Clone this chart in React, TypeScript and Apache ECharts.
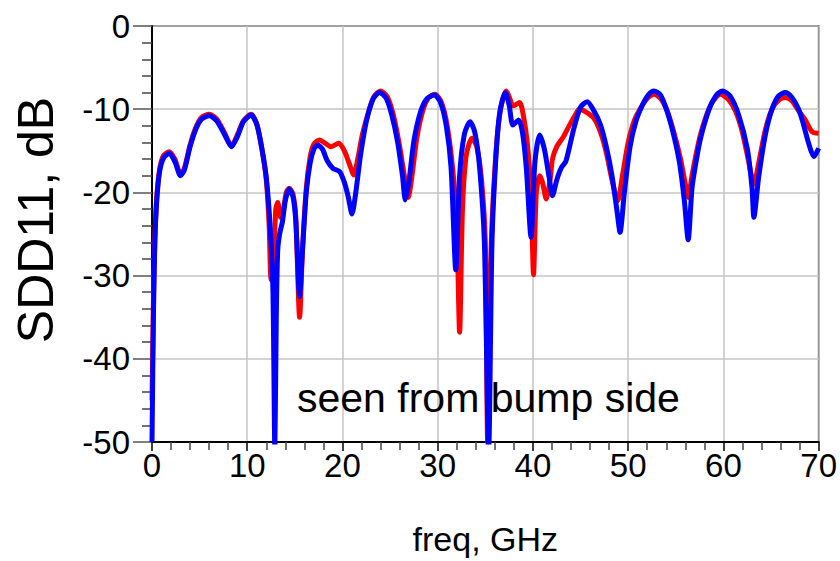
import React, { useEffect, useRef } from "react";
import * as echarts from "echarts";

const freqRed = [
  0, 0.15, 0.3, 0.5, 0.8, 1.2, 1.8, 2.4, 3.0, 3.4, 4.0, 4.6, 5.2, 6.0, 6.8, 7.6, 8.35, 9.0, 9.6, 10.4,
  11.0, 11.5, 12.0, 12.3, 12.5, 12.8, 13.0, 13.2, 13.5, 13.8, 14.1, 14.4, 14.8, 15.1, 15.5, 15.8, 16.2,
  16.6, 17.0, 17.6, 18.2, 18.8, 19.6, 20.2, 20.7, 21.2, 21.6, 22.1, 22.7, 23.3, 24.0, 24.7, 25.3, 25.9,
  26.5, 26.9, 27.3, 27.8, 28.4, 29.0, 29.7, 30.4, 31.0, 31.6, 32.0, 32.3, 32.6, 33.0, 33.6, 34.1, 34.6,
  35.0, 35.25, 35.6, 36.1, 36.6, 37.2, 37.6, 37.9, 38.6, 39.0, 39.4, 39.8, 40.06, 40.35, 40.7, 41.0,
  41.4, 41.8, 42.05, 42.5, 43.2, 43.8, 44.4, 44.85, 45.5, 46.4, 47.1, 47.7, 48.3, 48.9, 49.4, 50.0,
  50.7, 51.5, 52.1, 52.7, 53.4, 54.1, 54.8, 55.5, 56.0, 56.3, 56.7, 57.1, 57.6, 58.5, 59.2, 59.7, 60.5,
  61.3, 62.0, 62.6, 63.2, 63.7, 64.4, 65.1, 65.8, 66.5, 67.2, 67.9, 68.6, 69.3, 70,
];
const sdd11Red = [
  -45, -33, -25.5, -20.5, -17.2, -15.6, -15.1, -16.0, -17.8, -17.1, -14.3, -12.2, -11.0, -10.6, -11.2,
  -12.8, -14.4, -13.0, -11.4, -10.6, -11.8, -14.5, -18.5, -24, -30.5, -27, -22, -21.2, -23, -22, -20,
  -19.5, -20.2, -23, -35, -27, -19.5, -15.8, -14.2, -13.7, -14.1, -14.5, -14.1, -15, -16.5, -17.9, -16,
  -13, -10.5, -8.5, -7.8, -8.5, -10.5, -13.8, -18, -20.6, -18, -13.5, -10.3, -8.7, -8.2, -9.2, -12,
  -17.5, -24, -36.8, -22, -15.5, -13.5, -14.5, -18.5, -26, -50, -27, -15.5, -10, -7.8, -8.8, -9.6, -9.2,
  -10.8, -14, -20, -29.9, -20, -18, -18.8, -20.8, -18.5, -16, -14.5, -13.3, -12, -10.8, -10.0, -10.3,
  -11.1, -12.8, -15.2, -18.5, -21.0, -18, -14, -11.2, -9.5, -8.6, -8.2, -8.7, -10.2, -12.8, -16, -19,
  -20.6, -18, -15.6, -13, -9.9, -8.6, -8.2, -8.8, -10.3, -12.8, -16, -19.0, -16.5, -12.5, -10.0, -8.9,
  -8.6, -9.0, -10.2, -11.3, -12.7, -12.9,
];

const freqBlue = [
  0, 0.15, 0.3, 0.5, 0.8, 1.2, 1.8, 2.4, 3.0, 3.4, 4.0, 4.6, 5.2, 6.0, 6.8, 7.6, 8.35, 9.0, 9.6, 10.4,
  11.0, 11.5, 12.0, 12.4, 12.7, 12.9, 13.05, 13.2, 13.4, 13.7, 14.0, 14.4, 14.8, 15.1, 15.5, 15.8, 16.2,
  16.6, 17.0, 17.4, 17.9, 18.4, 19.0, 19.7, 20.2, 20.6, 21.0, 21.4, 21.9, 22.5, 23.2, 23.9, 24.6, 25.2,
  25.8, 26.3, 26.6, 27.0, 27.5, 28.2, 28.9, 29.65, 30.3, 30.9, 31.4, 31.9, 32.3, 32.8, 33.4, 33.9, 34.4,
  34.9, 35.35, 35.7, 36.1, 36.5, 37.1, 37.5, 37.9, 38.5, 38.9, 39.3, 39.8, 40.2, 40.7, 41.2, 41.7,
  42.05, 42.5, 43.0, 43.45, 44.3, 45.0, 45.7, 46.4, 47.1, 47.7, 48.3, 48.8, 49.15, 49.6, 50.2, 50.8,
  51.5, 52.1, 52.7, 53.4, 54.1, 54.8, 55.4, 55.9, 56.3, 56.7, 57.1, 57.6, 58.5, 59.2, 59.9, 60.7, 61.6,
  62.5, 63.0, 63.2, 63.7, 64.4, 65.1, 65.8, 66.5, 67.2, 67.9, 68.4, 68.8, 69.2, 69.5, 70,
];
const sdd11Blue = [
  -50, -35, -26, -21, -17.5, -15.9, -15.3, -16.3, -18.0, -17.3, -14.5, -12.4, -11.2, -10.8, -11.4, -13.0,
  -14.5, -13.2, -11.5, -10.7, -11.8, -14.5, -18.2, -24, -32, -51, -35, -27, -25, -23.5, -21, -19.6,
  -20.5, -23.5, -32.5, -27, -20, -16.5, -14.8, -14.3, -14.8, -16.2, -17.1, -17.5, -18.8, -20.5, -22.6,
  -20, -15.5, -11.5, -8.8, -8.0, -8.7, -10.8, -14, -18, -20.9, -18.5, -13.8, -10.3, -8.7, -8.3, -9.2,
  -12, -17, -29.3, -18, -13, -11.5, -12.8, -17, -26, -51, -26, -16, -10.5, -8.0, -9.5, -11.9, -11.3,
  -12.8, -17, -25.4, -16.5, -13.1, -14.8, -18.2, -20.4, -18.5, -17, -16.3, -12.3, -9.75, -9.1, -10.2,
  -11.9, -14.5, -18, -22, -24.8, -20, -14.5, -11.5, -9.5, -8.3, -7.8, -8.3, -10.3, -13.2, -16.5, -21,
  -25.7, -19.5, -16.5, -13.5, -10, -8.4, -7.8, -8.4, -10.7, -14.7, -19.4, -23.0, -18.2, -13.1, -10,
  -8.4, -8.0, -8.6, -10, -11.8, -13.5, -15, -15.7, -14.7,
];

const xTicks = [0, 10, 20, 30, 40, 50, 60, 70];
const yTicks = [0, -10, -20, -30, -40, -50];

const FONT = "Liberation Sans, Arial, sans-serif";

export default function App() {
  const ref = useRef<HTMLDivElement>(null);
  useEffect(() => {
    document.body.style.margin = "0";
    if (!ref.current) return;
    const chart = echarts.init(ref.current, undefined, { renderer: "svg" });
    const redData = freqRed.map((f, i) => [f, sdd11Red[i]]);
    const blueData = freqBlue.map((f, i) => [f, sdd11Blue[i]]);
    chart.setOption({
      animation: false,
      backgroundColor: "#ffffff",
      grid: {
        left: 152,
        right: 20,
        top: 26,
        bottom: 113,
        show: true,
        borderColor: "#000",
        borderWidth: 1.5,
      },
      xAxis: {
        type: "value",
        min: xTicks[0],
        max: xTicks[xTicks.length - 1],
        interval: 10,
        name: "freq, GHz",
        nameLocation: "middle",
        nameGap: 80,
        nameTextStyle: { fontFamily: FONT, fontSize: 34, color: "#000" },
        axisLine: { show: true, onZero: false, lineStyle: { color: "#000", width: 2 } },
        axisTick: { show: true, length: 9, lineStyle: { color: "#000", width: 1.5 } },
        minorTick: { show: true, splitNumber: 5, length: 8, lineStyle: { color: "#444", width: 1.5 } },
        axisLabel: { fontFamily: FONT, fontSize: 33, color: "#000", margin: 7 },
        splitLine: { show: true, lineStyle: { color: "#c4c4c4", width: 1.5 } },
      },
      yAxis: {
        type: "value",
        min: yTicks[yTicks.length - 1],
        max: yTicks[0],
        interval: 10,
        axisLine: { show: true, onZero: false, lineStyle: { color: "#000", width: 2 } },
        axisTick: { show: true, length: 19, lineStyle: { color: "#555", width: 1.5 } },
        minorTick: { show: true, splitNumber: 5, length: 10, lineStyle: { color: "#444", width: 1.5 } },
        axisLabel: { fontFamily: FONT, fontSize: 33, color: "#000", margin: 22 },
        splitLine: { show: true, lineStyle: { color: "#c4c4c4", width: 1.5 } },
      },
      graphic: [
        {
          type: "text",
          x: 36,
          y: 220,
          rotation: Math.PI / 2,
          style: {
            text: "SDD11, dB",
            font: `50px ${FONT}`,
            fill: "#000",
            align: "center",
            verticalAlign: "middle",
          },
        },
        {
          type: "text",
          left: 297,
          top: 377,
          z: 100,
          style: {
            text: "seen from bump side",
            font: `41px ${FONT}`,
            fill: "#000",
          },
        },
      ],
      series: [
        {
          type: "line",
          data: redData,
          showSymbol: false,
          smooth: 0.25,
          clip: true,
          lineStyle: { color: "#ff0000", width: 5 },
          z: 2,
        },
        {
          type: "line",
          data: blueData,
          showSymbol: false,
          smooth: 0.25,
          clip: true,
          lineStyle: { color: "#0000ff", width: 5 },
          z: 3,
        },
      ],
    });
    return () => chart.dispose();
  }, []);
  return <div ref={ref} style={{ width: 840, height: 561 }} />;
}
